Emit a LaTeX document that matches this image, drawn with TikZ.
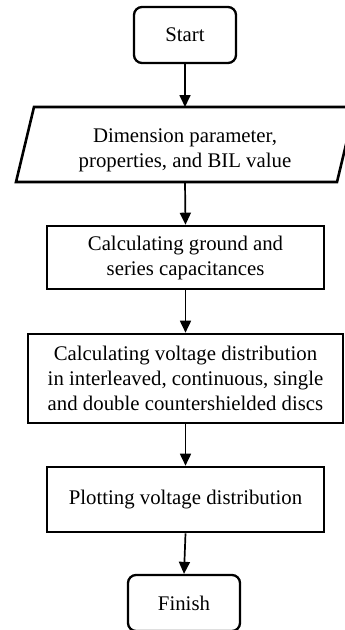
\documentclass[tikz,border=0pt]{standalone}
\usepackage{fontspec}
\setmainfont{Liberation Serif}
\usetikzlibrary{arrows.meta}
\begin{document}
\begin{tikzpicture}[x=1pt,y=-1pt,
  every node/.style={font=\fontsize{20.8}{25}\selectfont, align=center, inner sep=0pt},
  term/.style={draw, line width=2.3pt, rounded corners=8pt},
  procbox/.style={draw, line width=2.6pt},
  link/.style={line width=1.7pt, -{Triangle[length=12pt,width=11pt]}}]
\useasboundingbox (0,0) rectangle (345,630);
\begin{scope}
\clip (0,0) rectangle (345,630);
% Start
\node[term, minimum width=102pt, minimum height=56pt] (start) at (185,35) {Start};
% Input parallelogram
\coordinate (pbl) at (16,182);
\coordinate (pbr) at (337,182);
\coordinate (ptr) at (355,107);
\coordinate (ptl) at (34,107);
\draw[line width=2.6pt] (pbl) -- (pbr) -- (ptr) -- (ptl) -- cycle;
\node (inp) at (185,150) {Dimension parameter,\\properties, and BIL value};
\coordinate (inptop) at (185,107);
\coordinate (inpbot) at (185,182);
% Box 2
\node[procbox, minimum width=277pt, minimum height=63pt] (cap) at (185.5,257.5) {Calculating ground and\\series capacitances};
% Box 3
\node[procbox, minimum width=315pt, minimum height=89pt] (volt) at (185.5,378.5) {Calculating voltage distribution\\in interleaved, continuous, single\\and double countershielded discs};
% Box 4
\node[procbox, minimum width=277pt, minimum height=65pt] (plot) at (185.5,499.5) {Plotting voltage distribution};
% Finish
\node[term, minimum width=112pt, minimum height=56pt] (finish) at (184,603) {Finish};
% arrows
\draw[link] (start.south) -- (inptop);
\draw[link] (inpbot) -- (cap.north);
\draw[link] (cap.south) -- (volt.north);
\draw[link] (volt.south) -- (plot.north);
\draw[link] (plot.south) -- (finish.north);
\end{scope}
\end{tikzpicture}
\end{document}
